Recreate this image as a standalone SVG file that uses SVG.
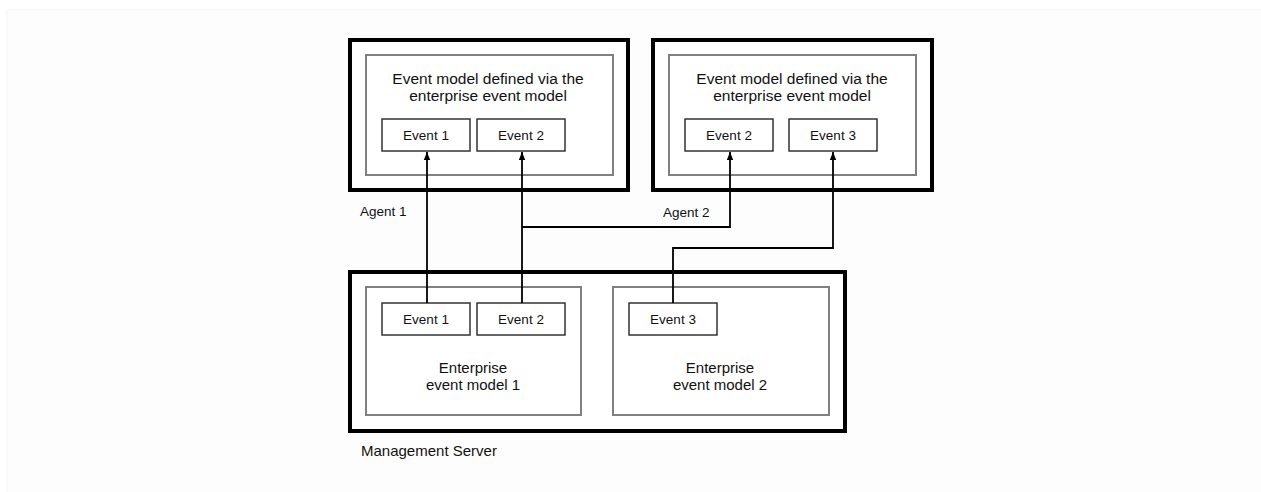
<svg xmlns="http://www.w3.org/2000/svg" width="1261" height="492" viewBox="0 0 1261 492">
<style>
.outer{fill:#fff;stroke:#000;stroke-width:4}
.inner{fill:#fff;stroke:#808080;stroke-width:2}
.ev{fill:#fff;stroke:#333;stroke-width:1.5}
text{font-family:"Liberation Sans",Arial,sans-serif;font-size:13.5px;fill:#111}
.h{font-size:15.5px}
.m{font-size:15px}
.c{text-anchor:middle}
.conn{fill:none;stroke:#000;stroke-width:1.8}
</style>
<defs>
<marker id="ah" viewBox="0 0 8 8" refX="8" refY="4" markerWidth="8" markerHeight="8" markerUnits="userSpaceOnUse" orient="auto">
<path d="M0,0.8 L8,4 L0,7.2 z" fill="#000"/>
</marker>
</defs>
<rect x="7" y="10" width="1260" height="490" fill="#fdfdfd" stroke="#f3f3f3"/>
<g id="agent1">
<rect class="outer" x="350" y="40" width="278" height="150"/>
<rect class="inner" x="366" y="55" width="247" height="120"/>
<text class="c h" x="488" y="84">Event model defined via the</text>
<text class="c h" x="488" y="101">enterprise event model</text>
<g id="a1-event1"><rect class="ev" x="382" y="119" width="88" height="32"/><text class="c" x="426" y="140">Event 1</text></g>
<g id="a1-event2"><rect class="ev" x="477" y="119" width="88" height="32"/><text class="c" x="521" y="140">Event 2</text></g>
<text x="360" y="216">Agent 1</text>
</g>
<g id="agent2">
<rect class="outer" x="653" y="40" width="279" height="150"/>
<rect class="inner" x="669" y="55" width="247" height="120"/>
<text class="c h" x="792" y="84">Event model defined via the</text>
<text class="c h" x="792" y="101">enterprise event model</text>
<g id="a2-event2"><rect class="ev" x="685" y="119" width="88" height="32"/><text class="c" x="729" y="140">Event 2</text></g>
<g id="a2-event3"><rect class="ev" x="789" y="119" width="88" height="32"/><text class="c" x="833" y="140">Event 3</text></g>
<text x="663" y="217">Agent 2</text>
</g>
<g id="management-server">
<rect class="outer" x="350" y="272" width="495" height="159"/>
<g id="eem1">
<rect class="inner" x="366" y="287" width="215" height="128"/>
<text class="c m" x="473" y="373">Enterprise</text>
<text class="c m" x="473" y="390">event model 1</text>
</g>
<g id="eem2">
<rect class="inner" x="613" y="287" width="216" height="128"/>
<text class="c m" x="720" y="373">Enterprise</text>
<text class="c m" x="720" y="390">event model 2</text>
</g>
<g id="ms-event1"><rect class="ev" x="382" y="303" width="88" height="32"/><text class="c" x="426" y="324">Event 1</text></g>
<g id="ms-event2"><rect class="ev" x="477" y="303" width="88" height="32"/><text class="c" x="521" y="324">Event 2</text></g>
<g id="ms-event3"><rect class="ev" x="629" y="303" width="88" height="32"/><text class="c" x="673" y="324">Event 3</text></g>
<text class="m" x="361" y="456">Management Server</text>
</g>
<g id="connectors">
<path class="conn" d="M427,303 L427,152" marker-end="url(#ah)"/>
<path class="conn" d="M522,303 L522,152" marker-end="url(#ah)"/>
<path class="conn" d="M522,227 L730,227 L730,152" marker-end="url(#ah)"/>
<path class="conn" d="M673,303 L673,248 L833,248 L833,152" marker-end="url(#ah)"/>
</g>
</svg>
